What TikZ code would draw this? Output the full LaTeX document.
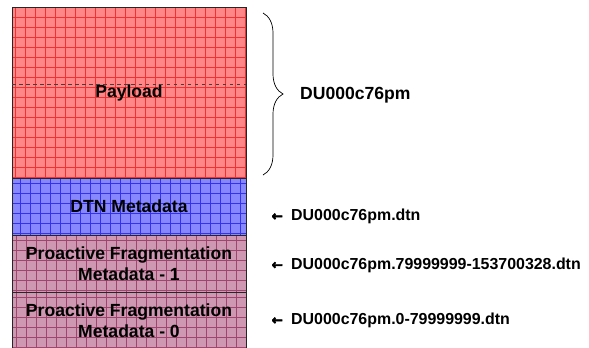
\documentclass[tikz,border=0pt]{standalone}
\usepackage{fontspec}
\setmainfont{Liberation Sans}[BoldFont={Liberation Sans Bold}]
\newfontfamily\arrowfont{DejaVu Sans Bold}[FakeBold=3]
\usepackage{xcolor}
\usepackage{tikz}
\usetikzlibrary{positioning, calc, decorations.pathreplacing}
\definecolor{payloadfill}{RGB}{255,135,135}
\definecolor{payloadgrid}{RGB}{240,50,50}
\definecolor{dtnfill}{RGB}{135,135,255}
\definecolor{dtngrid}{RGB}{50,50,240}
\definecolor{fragfill}{RGB}{206,152,178}
\definecolor{fraggrid}{RGB}{160,70,110}
\newcommand{\leftarr}{{\arrowfont\fontsize{11.5}{12}\selectfont ←}\hspace{0.25cm}}
\tikzstyle{layer} = [rectangle, minimum width=7.02cm, align=center, draw=black!85, line width=0.8pt, inner sep=0pt, outer sep=0pt, font=\bfseries\fontsize{15}{17.5}\selectfont]
\tikzset{gridded/.style={path picture={\draw[#1, line width=0.3pt, step=0.3cm] (path picture bounding box.south west) grid (path picture bounding box.north east);}}}
\tikzstyle{filename} = [anchor=west, inner sep=0pt, font=\bfseries\fontsize{13.6}{16}\selectfont]

\begin{document}
\begin{tikzpicture}
	\useasboundingbox (0,0) rectangle (17.67,-10.41);
	% layers
	\node (payload) [layer, anchor=north west, minimum height=5.13cm, fill=payloadfill, gridded=payloadgrid] at (0.36,-0.21) {Payload};
	
	\node (dtn) [layer, below=0 of payload, minimum height=1.71cm, fill=dtnfill, gridded=dtngrid] {DTN Metadata};
	
	\node (frag-1) [layer, below=0 of dtn, minimum height=1.71cm, fill=fragfill, gridded=fraggrid] {Proactive Fragmentation\\Metadata - 1};
	
	\node (frag-0) [layer, below=0 of frag-1, minimum height=1.71cm, fill=fragfill, gridded=fraggrid] {Proactive Fragmentation\\Metadata - 0};
	
	% split in the payload
	\draw[dashed, black!75, line width=0.6pt] ([yshift=-2.31cm] payload.north west) -- ([yshift=-2.31cm] payload.north east);
	
	% names
	\draw[decorate, decoration={brace, amplitude=0.6cm}, line width=0.6pt] ([xshift=0.51cm, yshift=-0.18cm] payload.north east) -- ([xshift=0.51cm, yshift=0.09cm] payload.south east);
	\node (payload-name) [filename, font=\bfseries\fontsize{15}{17}\selectfont, right=1.62cm of payload.east, yshift=-0.07cm] {DU000c76pm};
	
	\node (dtn-name) [filename, right=0.76cm of dtn.east, yshift=-0.3cm] {\leftarr DU000c76pm.dtn};
	
	\node (frag-1-name) [filename, right=0.76cm of frag-1.east, yshift=-0.05cm] {\leftarr DU000c76pm.79999999-153700328.dtn};
	
	\node (frag-0-name) [filename, right=0.76cm of frag-0.east] {\leftarr DU000c76pm.0-79999999.dtn};
\end{tikzpicture}
\end{document}
